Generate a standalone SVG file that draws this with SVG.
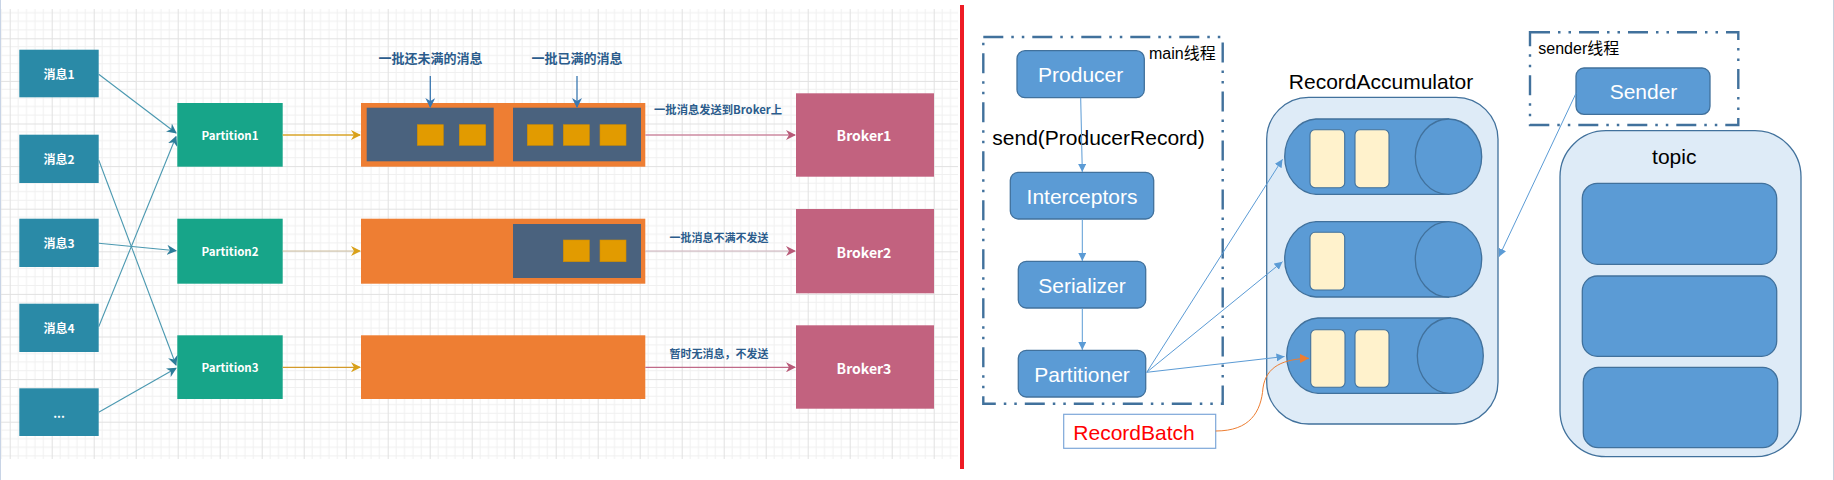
<svg xmlns="http://www.w3.org/2000/svg" width="1834" height="480" viewBox="0 0 1834 480">
<style>
.msg{fill:#2A8AA7}
.part{fill:#17A589}
.brk{fill:#C2627F}
.org{fill:#EE7E33}
.slate{fill:#4A627E}
.sq{fill:#E29B00;stroke:#D08C00;stroke-width:0.6}
.wt{fill:#FFFFFF;font-family:"Noto Sans CJK SC","Noto Sans",sans-serif;font-weight:bold;text-anchor:middle;dominant-baseline:central}
.lbl{fill:#2B5C8C;font-family:"Noto Sans CJK SC","Noto Sans",sans-serif;font-weight:bold;text-anchor:middle;dominant-baseline:central}
.ar{font-family:"Liberation Sans",Arial,"Noto Sans CJK SC",sans-serif;dominant-baseline:central}
.box{fill:#5B9BD5;stroke:#41719C;stroke-width:1.3}
.pale{fill:#DEEBF7;stroke:#41719C;stroke-width:1.3}
.cream{fill:#FFF2CC;stroke:#41719C;stroke-width:1.1}
.thread{fill:none;stroke:#41719C;stroke-width:2.4;stroke-dasharray:20 8 2.5 8 2.5 8}
.lb{fill:none;stroke:#5B9BD5;stroke-width:1;marker-end:url(#mLB)}
.tl{fill:none;stroke:#4A98B0;stroke-width:1.1;marker-end:url(#mTeal)}
</style>
<defs>
<pattern id="grid" x="9.7" y="-4.3" width="42" height="42.6" patternUnits="userSpaceOnUse">
<path d="M8.4 0V42.6M16.8 0V42.6M25.2 0V42.6M33.6 0V42.6M0 8.52H42M0 17.04H42M0 25.56H42M0 34.08H42" stroke="#F0F0F0" stroke-width="1" fill="none"/>
<path d="M0.5 0V42.6M0 0.5H42" stroke="#E1E1E1" stroke-width="1" fill="none"/>
</pattern>
<marker id="mTeal" markerUnits="userSpaceOnUse" markerWidth="10" markerHeight="10" refX="9" refY="5" orient="auto"><path d="M0,0 L10,5 L0,10 L3,5 Z" fill="#2D7D9A"/></marker>
<marker id="mGold" markerUnits="userSpaceOnUse" markerWidth="10" markerHeight="10" refX="9" refY="5" orient="auto"><path d="M0,0 L10,5 L0,10 L3,5 Z" fill="#D9A11A"/></marker>
<marker id="mPink" markerUnits="userSpaceOnUse" markerWidth="10" markerHeight="10" refX="9" refY="5" orient="auto"><path d="M0,0 L10,5 L0,10 L3,5 Z" fill="#B85A78"/></marker>
<marker id="mBlue" markerUnits="userSpaceOnUse" markerWidth="10" markerHeight="10" refX="9" refY="5" orient="auto"><path d="M0,0 L10,5 L0,10 L3,5 Z" fill="#3A78B0"/></marker>
<marker id="mLB" markerUnits="userSpaceOnUse" markerWidth="9" markerHeight="8" refX="8" refY="4" orient="auto"><path d="M0,0 L8,4 L0,8 Z" fill="#5B9BD5"/></marker>
<marker id="mOrange" markerUnits="userSpaceOnUse" markerWidth="10" markerHeight="9" refX="9" refY="4.5" orient="auto"><path d="M0,0 L9,4.5 L0,9 Z" fill="#ED7D31"/></marker>
</defs>
<rect width="1834" height="480" fill="#FFFFFF"/>
<rect x="0" y="9" width="958" height="450" fill="url(#grid)"/>
<line x1="0.5" y1="0" x2="0.5" y2="480" stroke="#C8D4E6" stroke-width="1"/>
<line x1="1833.5" y1="0" x2="1833.5" y2="480" stroke="#C8D0DC" stroke-width="1"/>
<rect x="960" y="5" width="4" height="464" fill="#EE1C25"/>

<g id="msg1"><rect class="msg" x="19.3" y="49.7" width="79.4" height="47.6"/><text class="wt" x="59" y="73.5" font-size="12">消息1</text></g>
<g id="msg2"><rect class="msg" x="19.3" y="134.7" width="79.4" height="48.3"/><text class="wt" x="59" y="158.8" font-size="12">消息2</text></g>
<g id="msg3"><rect class="msg" x="19.3" y="218.7" width="79.4" height="48.3"/><text class="wt" x="59" y="242.8" font-size="12">消息3</text></g>
<g id="msg4"><rect class="msg" x="19.3" y="303.7" width="79.4" height="48.3"/><text class="wt" x="59" y="327.8" font-size="12">消息4</text></g>
<g id="msg5"><rect class="msg" x="19.3" y="388.3" width="79.4" height="47.7"/><text class="wt" x="59" y="412" font-size="12">...</text></g>

<g id="partition1"><rect class="part" x="177.3" y="103" width="105.4" height="63.7"/><text class="wt" x="230" y="134.8" font-size="11.5">Partition1</text></g>
<g id="partition2"><rect class="part" x="177.3" y="218.7" width="105.4" height="65"/><text class="wt" x="230" y="251" font-size="11.5">Partition2</text></g>
<g id="partition3"><rect class="part" x="177.3" y="335.3" width="105.4" height="63.7"/><text class="wt" x="230" y="367.3" font-size="11.5">Partition3</text></g>

<g id="batch1">
<rect class="org" x="361" y="103" width="284.3" height="63.7"/>
<rect class="slate" x="366.7" y="107.7" width="127" height="53.6"/>
<rect class="slate" x="513" y="107.7" width="128" height="53.6"/>
<rect class="sq" x="417.3" y="124.7" width="26" height="20.6"/>
<rect class="sq" x="459.3" y="124.7" width="26.4" height="20.6"/>
<rect class="sq" x="527.3" y="124.7" width="25.7" height="20.6"/>
<rect class="sq" x="563.3" y="124.7" width="26" height="20.6"/>
<rect class="sq" x="600" y="124.7" width="26" height="20.6"/>
</g>
<g id="batch2">
<rect class="org" x="361" y="218.7" width="284.3" height="65"/>
<rect class="slate" x="513" y="224" width="128" height="54"/>
<rect class="sq" x="563.3" y="240" width="26" height="21.7"/>
<rect class="sq" x="600" y="240" width="26" height="21.7"/>
</g>
<g id="batch3"><rect class="org" x="361" y="335.3" width="284.3" height="63.7"/></g>

<g id="label-notfull"><text class="lbl" x="430.5" y="57.7" font-size="13">一批还未满的消息</text></g>
<g id="label-full"><text class="lbl" x="577" y="57.7" font-size="13">一批已满的消息</text></g>
<g id="label-send"><text class="lbl" x="718" y="109" font-size="11.3">一批消息发送到Broker上</text></g>
<g id="label-nosend"><text class="lbl" x="719" y="236.7" font-size="11">一批消息不满不发送</text></g>
<g id="label-empty"><text class="lbl" x="719" y="352.7" font-size="11">暂时无消息，不发送</text></g>

<g id="broker1"><rect class="brk" x="796" y="93.3" width="138" height="83.4"/><text class="wt" x="864" y="135" font-size="14">Broker1</text></g>
<g id="broker2"><rect class="brk" x="796" y="209" width="138" height="84.3"/><text class="wt" x="864" y="251.5" font-size="14">Broker2</text></g>
<g id="broker3"><rect class="brk" x="796" y="325.3" width="138" height="83.4"/><text class="wt" x="864" y="367.5" font-size="14">Broker3</text></g>

<g id="main-thread">
<rect class="thread" x="983.3" y="37" width="239.4" height="366.7"/>
<text class="ar" x="1149" y="53.5" font-size="16" fill="#000">main线程</text>
<text class="ar" x="992.3" y="137.3" font-size="21" fill="#000">send(ProducerRecord)</text>
</g>
<g id="producer"><rect class="box" x="1017" y="50.7" width="127.3" height="47" rx="8"/><text class="ar" x="1080.7" y="74.5" font-size="21" fill="#FFF" text-anchor="middle">Producer</text></g>
<g id="interceptors"><rect class="box" x="1010.3" y="172.3" width="143.4" height="46.7" rx="8"/><text class="ar" x="1082" y="196" font-size="21" fill="#FFF" text-anchor="middle">Interceptors</text></g>
<g id="serializer"><rect class="box" x="1018.3" y="261.3" width="127.4" height="46.7" rx="8"/><text class="ar" x="1082" y="285" font-size="21" fill="#FFF" text-anchor="middle">Serializer</text></g>
<g id="partitioner"><rect class="box" x="1018.3" y="350.3" width="127.4" height="46.7" rx="8"/><text class="ar" x="1082" y="374" font-size="21" fill="#FFF" text-anchor="middle">Partitioner</text></g>
<g id="recordbatch"><rect x="1063.7" y="414.3" width="152" height="34" fill="#FFF" stroke="#7DA7D9" stroke-width="1.2"/><text class="ar" x="1134" y="432" font-size="21" fill="#FF0000" text-anchor="middle">RecordBatch</text></g>

<g id="accumulator">
<text class="ar" x="1381" y="81" font-size="21" fill="#000" text-anchor="middle">RecordAccumulator</text>
<rect class="pale" x="1266.7" y="97.3" width="231.3" height="326.7" rx="42"/>
<path class="box" d="M1448.5 119 H1316 A33 37.7 0 0 0 1316 194.3 H1448.5 Z"/>
<ellipse class="box" cx="1448.5" cy="156.7" rx="33.2" ry="37.7"/>
<rect class="cream" x="1310" y="129.7" width="34.7" height="58" rx="5"/>
<rect class="cream" x="1355" y="129.7" width="34" height="58" rx="5"/>
<path class="box" d="M1448.5 221.7 H1316 A33 37.7 0 0 0 1316 297 H1448.5 Z"/>
<ellipse class="box" cx="1448.5" cy="259.3" rx="33.2" ry="37.7"/>
<rect class="cream" x="1310" y="232.3" width="34.7" height="57.7" rx="5"/>
<path class="box" d="M1450.3 318 H1318 A33 37.7 0 0 0 1318 393.3 H1450.3 Z"/>
<ellipse class="box" cx="1450.3" cy="355.7" rx="33" ry="37.7"/>
<rect class="cream" x="1310.7" y="329.7" width="34.3" height="57.6" rx="5"/>
<rect class="cream" x="1355" y="329.7" width="34" height="57.6" rx="5"/>
</g>

<g id="sender-thread">
<rect class="thread" x="1530" y="32.3" width="208.3" height="92.7"/>
<text class="ar" x="1538.3" y="48.7" font-size="16" fill="#000">sender线程</text>
</g>
<g id="sender"><rect class="box" x="1576" y="68" width="134" height="46.3" rx="8"/><text class="ar" x="1643.5" y="91.5" font-size="21" fill="#FFF" text-anchor="middle">Sender</text></g>

<g id="topic">
<rect class="pale" x="1560" y="130.7" width="241" height="326" rx="46"/>
<text class="ar" x="1674.3" y="156" font-size="21" fill="#000" text-anchor="middle">topic</text>
<rect class="box" x="1582.3" y="183.3" width="194.4" height="81" rx="15"/>
<rect class="box" x="1582.3" y="276" width="194.4" height="80.3" rx="15"/>
<rect class="box" x="1583.3" y="367.3" width="194.4" height="80.4" rx="15"/>
</g>

<g id="connectors">
<path class="tl" d="M98.7 74.3 L176 133"/>
<path class="tl" d="M98.7 160 L176 365"/>
<path class="tl" d="M98.7 243.3 L176 250.7"/>
<path class="tl" d="M98.7 326.7 L176 136.7"/>
<path class="tl" d="M98.7 412.3 L176 368.3"/>
<path d="M282.7 135 H360" stroke="#D9A52A" stroke-width="1.3" fill="none" marker-end="url(#mGold)"/>
<path d="M282.7 251 H360" stroke="#CDBE9E" stroke-width="1.1" fill="none" marker-end="url(#mGold)"/>
<path d="M282.7 367.3 H360" stroke="#D39A2A" stroke-width="1.3" fill="none" marker-end="url(#mGold)"/>
<path d="M645.3 135 H795" stroke="#CC8AA0" stroke-width="1.3" fill="none" marker-end="url(#mPink)"/>
<path d="M645.3 251 H795" stroke="#CDB2BC" stroke-width="1.1" fill="none" marker-end="url(#mPink)"/>
<path d="M645.3 367.3 H795" stroke="#C06A88" stroke-width="1.3" fill="none" marker-end="url(#mPink)"/>
<path d="M430.3 76 V107" stroke="#3A78B0" stroke-width="1.3" fill="none" marker-end="url(#mBlue)"/>
<path d="M577 76 V107" stroke="#3A78B0" stroke-width="1.3" fill="none" marker-end="url(#mBlue)"/>
<path class="lb" d="M1080.7 97.7 L1082.3 172" stroke="#A9C6E8"/>
<path class="lb" d="M1082.3 219 V261"/>
<path class="lb" d="M1082.3 308 V350"/>
<path class="lb" d="M1146.7 372.3 L1282.5 159.3"/>
<path class="lb" d="M1146.7 372.3 L1282.5 261.7"/>
<path class="lb" d="M1146.7 372.3 L1284.5 356.5"/>
<path class="lb" d="M1576 93.3 L1499 256.7"/>
<path d="M1215.7 431 C1250 431 1261 412 1263 388 C1266 366 1284 359 1309 358.3" stroke="#ED7D31" stroke-width="1" fill="none" marker-end="url(#mOrange)"/>
</g>
</svg>
